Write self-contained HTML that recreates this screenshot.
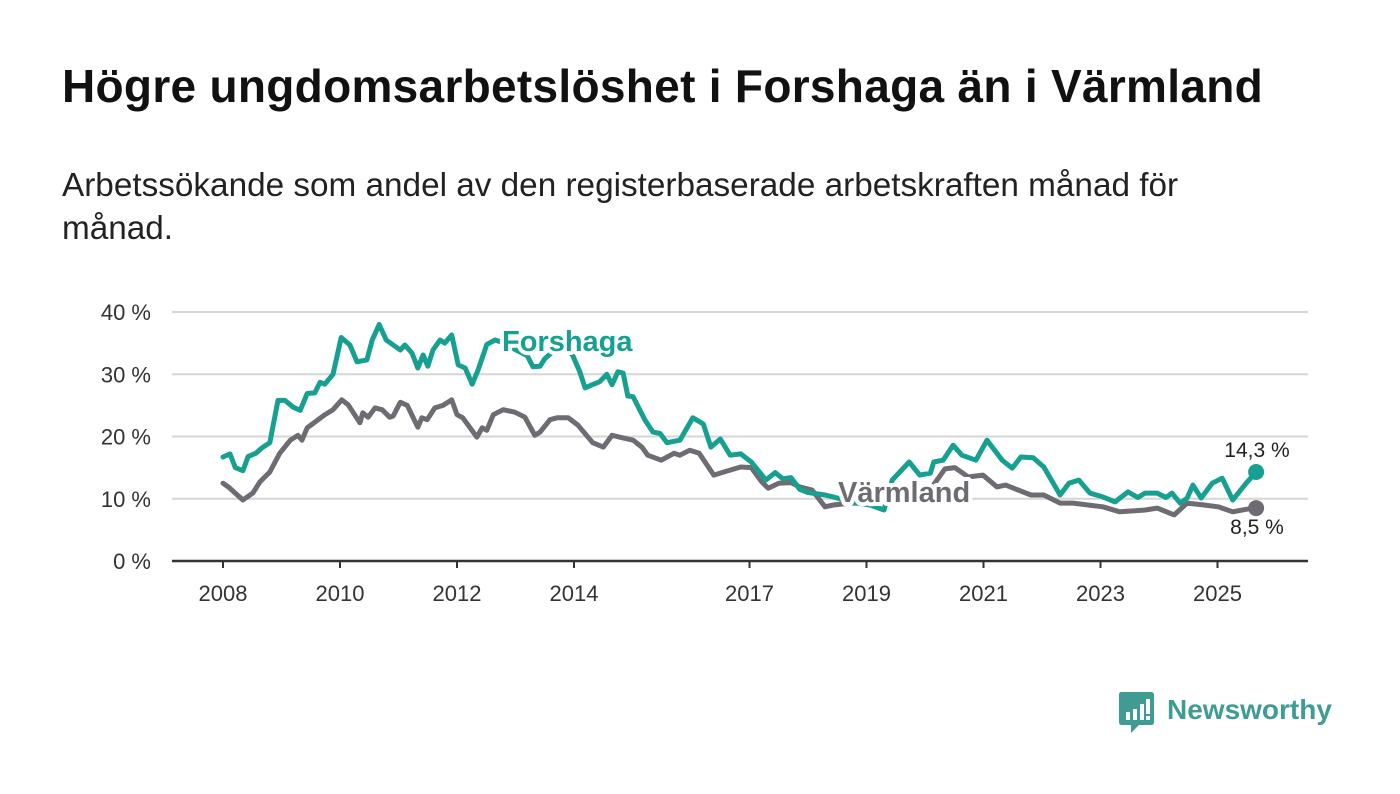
<!DOCTYPE html>
<html><head><meta charset="utf-8"><style>
body{margin:0;background:#fff;width:1400px;height:794px;overflow:hidden;font-family:"Liberation Sans","DejaVu Sans",sans-serif;}
#title{position:absolute;left:62px;top:59px;font-size:46px;font-weight:bold;color:#111;margin:0;letter-spacing:0.3px;white-space:nowrap}
#sub{position:absolute;left:62px;top:164px;font-size:33.3px;line-height:43px;color:#222;width:1175px;margin:0}
svg{position:absolute;left:0;top:0}
</style></head><body>
<h1 id="title">Högre ungdomsarbetslöshet i Forshaga än i Värmland</h1>
<p id="sub">Arbetssökande som andel av den registerbaserade arbetskraften månad för månad.</p>
<svg id="chart" width="1400" height="794"></svg>
<div style="position:absolute;left:1119px;top:692px;height:42px;">
<svg width="36" height="42" style="position:absolute;left:0;top:0"><path d="M2 0H32Q35 0 35 3V30Q35 33 32 33H20L12 41V33H3Q0 33 0 30V3Q0 0 2 0Z" fill="#3f9c93"/><rect x="7" y="20" width="4" height="8" fill="#fff"/><rect x="14" y="17" width="4" height="11" fill="#fff"/><rect x="21" y="12" width="4" height="16" fill="#fff"/><rect x="27" y="7" width="4" height="15" fill="#fff"/><rect x="27" y="24" width="4" height="4" fill="#fff"/></svg>
<span style="position:absolute;left:48px;top:1px;font-size:28px;color:#3f9c93;font-weight:bold;white-space:nowrap;line-height:34px">Newsworthy</span>
</div>
<script>
const yTicks=[0,10,20,30,40];
const xTickYears=[2008,2010,2012,2014,2017,2019,2021,2023,2025];
const forshagaYears=[2008.00,2008.12,2008.21,2008.34,2008.43,2008.56,2008.67,2008.80,2008.94,2009.06,2009.20,2009.32,2009.44,2009.57,2009.66,2009.74,2009.88,2010.02,2010.17,2010.29,2010.46,2010.55,2010.67,2010.79,2010.91,2011.03,2011.11,2011.23,2011.33,2011.42,2011.50,2011.59,2011.71,2011.79,2011.91,2012.02,2012.14,2012.26,2012.36,2012.51,2012.65,2012.82,2012.99,2013.20,2013.30,2013.42,2013.50,2013.68,2013.85,2013.98,2014.10,2014.19,2014.31,2014.44,2014.56,2014.65,2014.75,2014.84,2014.92,2015.01,2015.21,2015.35,2015.47,2015.59,2015.81,2016.03,2016.21,2016.34,2016.50,2016.67,2016.85,2017.03,2017.28,2017.44,2017.57,2017.71,2017.86,2018.00,2018.29,2018.43,2018.72,2019.06,2019.30,2019.44,2019.73,2019.91,2020.09,2020.15,2020.31,2020.48,2020.63,2020.87,2021.06,2021.32,2021.49,2021.64,2021.85,2022.03,2022.31,2022.46,2022.63,2022.82,2023.04,2023.25,2023.47,2023.64,2023.76,2023.97,2024.12,2024.22,2024.36,2024.48,2024.58,2024.72,2024.91,2025.08,2025.26,2025.49,2025.66];
const forshagaValues=[16.7,17.2,15,14.5,16.8,17.3,18.2,19,25.8,25.8,24.7,24.2,26.9,27,28.7,28.4,30,35.9,34.7,32,32.3,35.5,38,35.5,34.7,33.9,34.7,33.4,31,33.1,31.3,33.9,35.5,35,36.3,31.5,31,28.4,30.7,34.8,35.5,35,34,33,31.2,31.3,32.5,34,34.5,33,30.4,27.8,28.3,28.8,30,28.3,30.4,30.2,26.5,26.4,22.7,20.7,20.5,19,19.4,23,22,18.3,19.6,17,17.2,15.9,13,14.2,13.2,13.4,11.5,11,10.6,10.3,9.5,9,8.2,13,15.9,13.8,14.1,15.9,16.2,18.6,17,16.2,19.4,16.2,14.9,16.7,16.6,15.1,10.6,12.5,13,10.9,10.3,9.5,11.1,10.2,10.9,10.9,10.2,10.9,9.3,10.1,12.2,10.1,12.5,13.3,9.8,12.5,14.3];
const varmlandYears=[2008.00,2008.09,2008.34,2008.51,2008.63,2008.80,2008.97,2009.15,2009.28,2009.35,2009.44,2009.57,2009.74,2009.88,2010.03,2010.14,2010.34,2010.39,2010.48,2010.60,2010.72,2010.85,2010.91,2011.03,2011.15,2011.33,2011.40,2011.49,2011.62,2011.76,2011.91,2012.00,2012.10,2012.34,2012.43,2012.51,2012.62,2012.79,2012.99,2013.16,2013.33,2013.42,2013.59,2013.71,2013.90,2014.07,2014.32,2014.50,2014.65,2014.82,2015.01,2015.16,2015.26,2015.49,2015.71,2015.81,2015.98,2016.14,2016.39,2016.56,2016.85,2017.03,2017.21,2017.32,2017.50,2017.71,2017.86,2018.07,2018.29,2018.43,2018.72,2019.06,2019.40,2019.74,2020.09,2020.34,2020.51,2020.74,2020.99,2021.23,2021.38,2021.81,2022.03,2022.31,2022.53,2023.04,2023.33,2023.76,2023.97,2024.26,2024.48,2024.77,2025.01,2025.26,2025.49,2025.66];
const varmlandValues=[12.5,11.9,9.8,10.9,12.7,14.3,17.3,19.4,20.2,19.4,21.4,22.3,23.5,24.3,25.9,25.1,22.2,23.8,23.1,24.6,24.3,23.1,23.3,25.5,25,21.5,23,22.7,24.6,25,25.9,23.5,23,19.9,21.4,21,23.5,24.3,23.9,23.1,20.2,20.7,22.7,23,23,21.8,19,18.3,20.2,19.8,19.4,18.3,17,16.2,17.3,17,17.8,17.3,13.8,14.3,15.1,15,12.7,11.7,12.5,12.6,11.9,11.4,8.7,9,9.3,9.3,9.8,10.5,11.5,14.8,15,13.5,13.8,11.9,12.2,10.6,10.6,9.3,9.3,8.7,7.9,8.2,8.5,7.4,9.3,9,8.7,7.9,8.3,8.5];

const NS='http://www.w3.org/2000/svg';
const svg=document.getElementById('chart');
const X0=172,X1=1308,Y0=561,Y40=312;
function xs(yr){return 223+(yr-2008)*58.5;}
function ys(v){return Y0-(v/40)*(Y0-Y40);}
function mk(tag,attrs,parent){const e=document.createElementNS(NS,tag);for(const k in attrs)e.setAttribute(k,attrs[k]);(parent||svg).appendChild(e);return e;}
const TEAL='#16a08f',GRAY='#6e6c72';
yTicks.forEach(v=>{
  if(v>0){const g=mk('line',{x1:X0,x2:X1,y1:ys(v),y2:ys(v),stroke:'#d6d6d6','stroke-width':2});
  
  }
  const t=mk('text',{x:151,y:ys(v)+8,'text-anchor':'end','font-size':22,fill:'#333'});
  t.textContent=v+' %';
  
  
});
const ax=mk('line',{x1:X0,x2:X1,y1:Y0,y2:Y0,stroke:'#333','stroke-width':2.5});


xTickYears.forEach(yr=>{
  const tk=mk('line',{x1:xs(yr),x2:xs(yr),y1:Y0,y2:Y0+7,stroke:'#333','stroke-width':2});
  
  
  const t=mk('text',{x:xs(yr),y:601,'text-anchor':'middle','font-size':22,fill:'#333'});
  t.textContent=yr;
  
  
});
function series(years,vals,color,name){
  const d=years.map((y,i)=>(i?'L':'M')+xs(y).toFixed(1)+' '+ys(vals[i]).toFixed(1)).join('');
  const p=mk('path',{d:d,fill:'none',stroke:color,'stroke-width':5,'stroke-linejoin':'round','stroke-linecap':'round'});
  
  
  const n=years.length-1;
  const c=mk('circle',{cx:xs(years[n]),cy:ys(vals[n]),r:8,fill:color});
  
  
}
series(varmlandYears,varmlandValues,GRAY,'varmland');
series(forshagaYears,forshagaValues,TEAL,'forshaga');
function label(x,y,txt,color,size,bold,name,anchor){
  const t=mk('text',{x:x,y:y,'font-size':size,'font-weight':bold?'bold':'normal',fill:color,stroke:'#fff','stroke-width':bold?8:5,'paint-order':'stroke','stroke-linejoin':'round','text-anchor':anchor||'start'});
  t.textContent=txt;
  
  
}
label(502,351,'Forshaga',TEAL,29,true,'forshaga-label');
label(838,502,'Värmland',GRAY,29,true,'varmland-label');
const fl=forshagaValues.length-1,vl=varmlandValues.length-1;
label(1257,457,forshagaValues[fl].toFixed(1).replace('.',',')+' %','#222',21,false,'forshaga-value-label','middle');
label(1257,534,varmlandValues[vl].toFixed(1).replace('.',',')+' %','#222',21,false,'varmland-value-label','middle');
</script>
</body></html>
